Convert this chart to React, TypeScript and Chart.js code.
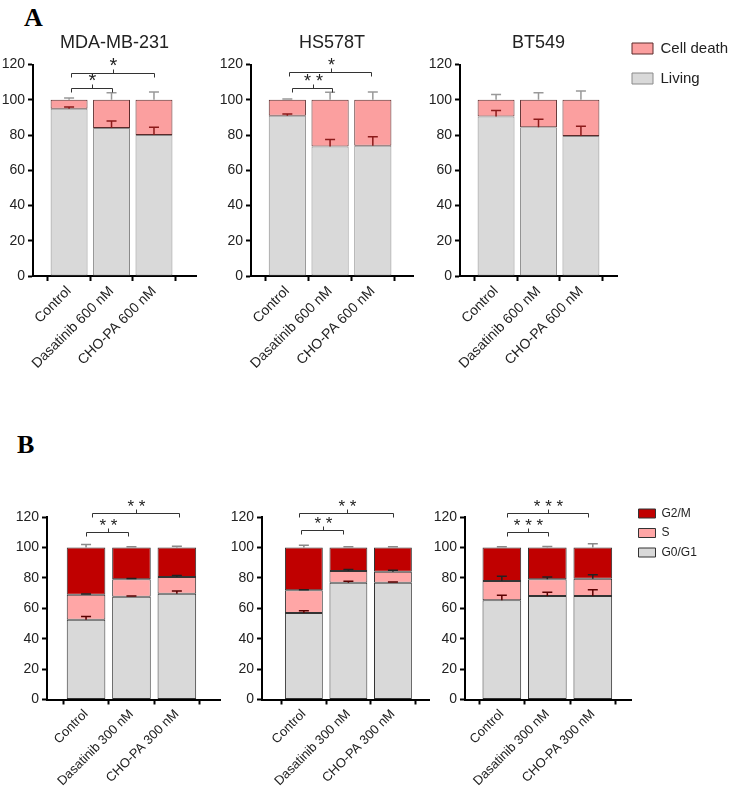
import React, { useEffect, useRef } from 'react';
import { Chart, registerables } from 'chart.js';

Chart.register(...registerables);

const FONT = "'Liberation Sans', Arial, sans-serif";
Chart.defaults.font.family = FONT;
Chart.defaults.color = '#222';

// ---------- Panel A: cell death (%), stacked Living + Cell death ----------
const catsA = ['Control', 'Dasatinib 600 nM', 'CHO-PA 600 nM'];

const mdaLiving = [95, 84, 80];
const mdaLivingErr = [1, 4, 4.5];
const mdaDeath = [5, 16, 20];
const mdaDeathErr = [1, 4, 4.5];

const hsLiving = [91, 73.5, 74];
const hsLivingErr = [1, 4, 5];
const hsDeath = [9, 26.5, 26];
const hsDeathErr = [0.5, 4.3, 4.5];

const btLiving = [90.5, 84.5, 79.5];
const btLivingErr = [3.5, 4.5, 5.5];
const btDeath = [9.5, 15.5, 20.5];
const btDeathErr = [3, 4, 5];

// ---------- Panel B: cell cycle (%), stacked G0/G1 + S + G2/M ----------
const catsB = ['Control', 'Dasatinib 300 nM', 'CHO-PA 300 nM'];

const b1G0 = [52.5, 67.5, 69.6];
const b1G0Err = [2, 0.5, 1.7];
const b1S = [16.3, 11.6, 10.9];
const b1SErr = [0.5, 0.5, 1];
const b1G2 = [31.2, 20.9, 19.5];
const b1G2Err = [2, 0.4, 0.7];

const b2G0 = [56.8, 76.7, 76.7];
const b2G0Err = [1.5, 1, 0.6];
const b2S = [15, 7.8, 7.3];
const b2SErr = [0.4, 1, 1];
const b2G2 = [28.2, 15.5, 16];
const b2G2Err = [1.5, 0.5, 0.5];

const b3G0 = [65.3, 68.1, 68.1];
const b3G0Err = [3.3, 2.5, 4];
const b3S = [12.7, 11, 11.3];
const b3SErr = [3, 1.5, 2.6];
const b3G2 = [22, 20.9, 20.6];
const b3G2Err = [0.5, 0.6, 2.4];

const yTicks = [0, 20, 40, 60, 80, 100, 120];

// significance brackets: [from category, to category, level, label]
const mdaBrackets: [number, number, number, string][] = [
  [0.05, 1.0, 106.5, '*'],
  [0.05, 2.0, 115.5, '*'],
];
const hsBrackets: [number, number, number, string][] = [
  [0.1, 1.05, 107, '* *'],
  [0.05, 1.96, 115.6, '*'],
];
const btBrackets: [number, number, number, string][] = [];
const b1Brackets: [number, number, number, string][] = [
  [0, 0.92, 110.3, '* *'],
  [0.13, 2.04, 122.7, '* *'],
];
const b2Brackets: [number, number, number, string][] = [
  [-0.07, 0.88, 111.5, '* *'],
  [-0.11, 2.0, 122.7, '* *'],
];
const b3Brackets: [number, number, number, string][] = [
  [0.11, 1.01, 110.3, '* * *'],
  [0.11, 1.89, 122.7, '* * *'],
];

// ---------- styles ----------
const GREY = '#d9d9d9';
const GREY_BORDER = '#8a8a8a';
const PINK_A = '#fb9f9f';
const PINK_A_BORDER = '#5a2a2a';
const PINK_B = '#ffa6a6';
const RED_B = '#c00000';
const DARK_BORDER = '#333333';

type DS = {
  label: string;
  data: number[];
  err: number[];
  bg: string;
  border: string;
  errColor: string;
};

type PanelCfg = {
  id: string;
  left: number;
  top: number;
  width: number;
  height: number;
  pad: { left: number; right: number; top: number; bottom: number };
  yWidth: number;
  xHeight: number;
  xMin: number;
  xMax: number;
  title?: string;
  spacer?: number;
  legend?: { size: number; boxW: number; boxH: number; padding: number };
  cats: string[];
  sets: DS[];
  brackets: [number, number, number, string][];
  xFont: number;
  barPct: number;
  starFont: number;
};

function errorPlugin(sets: DS[]) {
  return {
    id: 'errorBars',
    afterDatasetsDraw(chart: any) {
      const { ctx, scales } = chart;
      const x = scales.x;
      const y = scales.y;
      ctx.save();
      ctx.lineWidth = 1.5;
      const cum = sets[0].data.map(() => 0);
      sets.forEach((ds) => {
        ds.data.forEach((v, j) => {
          cum[j] += v;
          const e = ds.err[j];
          const px = x.getPixelForValue(j);
          const y0 = y.getPixelForValue(cum[j]);
          const y1 = y.getPixelForValue(cum[j] + e);
          ctx.strokeStyle = ds.errColor;
          ctx.beginPath();
          ctx.moveTo(px, y0);
          ctx.lineTo(px, y1);
          ctx.moveTo(px - 5, y1);
          ctx.lineTo(px + 5, y1);
          ctx.stroke();
        });
      });
      ctx.restore();
    },
  };
}

function bracketPlugin(brackets: [number, number, number, string][], size: number) {
  return {
    id: 'sigBrackets',
    afterDraw(chart: any) {
      const { ctx, scales } = chart;
      const x = scales.x;
      const y = scales.y;
      ctx.save();
      ctx.strokeStyle = '#333';
      ctx.lineWidth = 1;
      ctx.fillStyle = '#222';
      ctx.font = `${size}px ${FONT}`;
      ctx.textAlign = 'center';
      ctx.textBaseline = 'alphabetic';
      for (const [from, to, level, text] of brackets) {
        const x1 = Math.round(x.getPixelForValue(from)) + 0.5;
        const x2 = Math.round(x.getPixelForValue(to)) + 0.5;
        const yy = Math.round(y.getPixelForValue(level)) + 0.5;
        const xm = Math.round((x1 + x2) / 2) + 0.5;
        ctx.beginPath();
        ctx.moveTo(x1, yy + 4);
        ctx.lineTo(x1, yy);
        ctx.lineTo(x2, yy);
        ctx.lineTo(x2, yy + 4);
        ctx.moveTo(xm, yy);
        ctx.lineTo(xm, yy - 4);
        ctx.stroke();
        ctx.fillText(text, xm, yy - 2);
      }
      ctx.restore();
    },
  };
}

function Panel({ cfg }: { cfg: PanelCfg }) {
  const ref = useRef<HTMLCanvasElement | null>(null);
  useEffect(() => {
    const canvas = ref.current;
    if (!canvas) return;
    const cats = cfg.cats;
    const titleOpts = cfg.title
      ? {
          display: true,
          text: cfg.title,
          fullSize: false,
          color: '#222',
          font: { size: 18, weight: 'normal' as const, lineHeight: 1.2 },
          padding: { top: 6, bottom: 11 },
        }
      : cfg.spacer
      ? {
          display: true,
          text: '',
          fullSize: false,
          font: { size: cfg.spacer, lineHeight: 1 },
          padding: { top: 0, bottom: 0 },
        }
      : { display: false };
    const legendOpts = cfg.legend
      ? {
          display: true,
          position: 'right' as const,
          align: 'start' as const,
          fullSize: true,
          reverse: true,
          labels: {
            color: '#222',
            font: { size: cfg.legend.size },
            boxWidth: cfg.legend.boxW,
            boxHeight: cfg.legend.boxH,
            padding: cfg.legend.padding,
          },
        }
      : { display: false };

    const chart = new Chart(canvas, {
      type: 'bar',
      data: {
        datasets: cfg.sets.map((s) => ({
          label: s.label,
          data: s.data.map((v, i) => ({ x: i, y: v })),
          backgroundColor: s.bg,
          borderColor: s.border,
          borderWidth: 1,
          borderSkipped: false,
          barPercentage: cfg.barPct,
          categoryPercentage: 1,
        })),
      },
      options: {
        responsive: false,
        animation: false,
        events: [],
        layout: { padding: cfg.pad },
        plugins: {
          title: titleOpts as any,
          legend: legendOpts as any,
          tooltip: { enabled: false },
        },
        scales: {
          x: {
            type: 'linear',
            min: cfg.xMin,
            max: cfg.xMax,
            stacked: true,
            offset: false,
            afterBuildTicks: (s: any) => {
              s.ticks = cats.map((_, i) => ({ value: i }));
            },
            afterFit: (s: any) => {
              s.height = cfg.xHeight;
            },
            ticks: {
              autoSkip: false,
              minRotation: 45,
              maxRotation: 45,
              color: '#222',
              font: { size: cfg.xFont },
              padding: 2,
              callback: (v: any) => cats[v as number] ?? '',
            },
            grid: {
              drawOnChartArea: false,
              drawTicks: true,
              tickLength: 5,
              tickColor: '#000',
              tickWidth: 2,
            },
            border: { display: true, color: '#000', width: 2 },
          },
          y: {
            min: 0,
            max: 120,
            stacked: true,
            afterBuildTicks: (s: any) => {
              s.ticks = yTicks.map((v) => ({ value: v }));
            },
            afterFit: (s: any) => {
              s.width = cfg.yWidth;
            },
            ticks: {
              color: '#222',
              font: { size: 14 },
              padding: 3,
            },
            grid: {
              drawOnChartArea: false,
              drawTicks: true,
              tickLength: 5,
              tickColor: '#000',
              tickWidth: 2,
            },
            border: { display: true, color: '#000', width: 2 },
          },
        },
      } as any,
      plugins: [errorPlugin(cfg.sets), bracketPlugin(cfg.brackets, cfg.starFont)],
    });
    return () => chart.destroy();
  }, [cfg]);
  return (
    <canvas
      ref={ref}
      width={cfg.width}
      height={cfg.height}
      style={{ position: 'absolute', left: cfg.left, top: cfg.top, width: cfg.width, height: cfg.height }}
    />
  );
}

const setsA = (living: number[], livingErr: number[], death: number[], deathErr: number[]): DS[] => [
  { label: 'Living', data: living, err: livingErr, bg: GREY, border: GREY_BORDER, errColor: '#8b1a1a' },
  { label: 'Cell death', data: death, err: deathErr, bg: PINK_A, border: PINK_A_BORDER, errColor: '#999999' },
];

const setsB = (
  g0: number[], g0Err: number[], s: number[], sErr: number[], g2: number[], g2Err: number[],
): DS[] => [
  { label: 'G0/G1', data: g0, err: g0Err, bg: GREY, border: DARK_BORDER, errColor: '#5a0000' },
  { label: 'S', data: s, err: sErr, bg: PINK_B, border: DARK_BORDER, errColor: '#222222' },
  { label: 'G2/M', data: g2, err: g2Err, bg: RED_B, border: DARK_BORDER, errColor: '#8a8a8a' },
];

// Panels with a legend use a wide (transparent, overlapping) canvas so that the
// layout's legend width limit (a quarter of the available width) fits the labels.
const panels: PanelCfg[] = [
  {
    id: 'a1', left: 0, top: 0, width: 205, height: 385,
    pad: { left: 0, right: 9, top: 26, bottom: 0 },
    yWidth: 33, xHeight: 109, xMin: -0.85, xMax: 2.99,
    title: 'MDA-MB-231', cats: catsA,
    sets: setsA(mdaLiving, mdaLivingErr, mdaDeath, mdaDeathErr),
    brackets: mdaBrackets, xFont: 14, barPct: 0.87, starFont: 20,
  },
  {
    id: 'a2', left: 205, top: 0, width: 215, height: 385,
    pad: { left: 0, right: 7, top: 26, bottom: 0 },
    yWidth: 46, xHeight: 109, xMin: -0.85, xMax: 2.94,
    title: 'HS578T', cats: catsA,
    sets: setsA(hsLiving, hsLivingErr, hsDeath, hsDeathErr),
    brackets: hsBrackets, xFont: 14, barPct: 0.87, starFont: 18,
  },
  {
    id: 'a3', left: 272, top: 0, width: 466, height: 385,
    pad: { left: 0, right: 6, top: 26, bottom: 0 },
    yWidth: 188, xHeight: 109, xMin: -0.85, xMax: 2.85,
    title: 'BT549', cats: catsA,
    legend: { size: 15, boxW: 21, boxH: 11, padding: 15 },
    sets: setsA(btLiving, btLivingErr, btDeath, btDeathErr),
    brackets: btBrackets, xFont: 14, barPct: 0.87, starFont: 18,
  },
  {
    id: 'b1', left: 0, top: 390, width: 225, height: 410,
    pad: { left: 0, right: 5, top: 127, bottom: 0 },
    yWidth: 47, xHeight: 100.5, xMin: -0.86, xMax: 2.95,
    cats: catsB,
    sets: setsB(b1G0, b1G0Err, b1S, b1SErr, b1G2, b1G2Err),
    brackets: b1Brackets, xFont: 13, barPct: 0.85, starFont: 17,
  },
  {
    id: 'b2', left: 225, top: 390, width: 207, height: 410,
    pad: { left: 0, right: 3, top: 127, bottom: 0 },
    yWidth: 37, xHeight: 100.5, xMin: -0.94, xMax: 2.81,
    cats: catsB,
    sets: setsB(b2G0, b2G0Err, b2S, b2SErr, b2G2, b2G2Err),
    brackets: b2Brackets, xFont: 13, barPct: 0.85, starFont: 17,
  },
  {
    id: 'b3', left: 415, top: 390, width: 323, height: 410,
    pad: { left: 0, right: 35, top: 110, bottom: 0 },
    spacer: 17,
    yWidth: 50, xHeight: 100.5, xMin: -0.81, xMax: 2.84,
    cats: catsB,
    legend: { size: 12, boxW: 17, boxH: 9, padding: 7.5 },
    sets: setsB(b3G0, b3G0Err, b3S, b3SErr, b3G2, b3G2Err),
    brackets: b3Brackets, xFont: 13, barPct: 0.85, starFont: 17,
  },
];

const letterStyle: React.CSSProperties = {
  position: 'absolute',
  font: "bold 26px 'Liberation Serif', 'Times New Roman', serif",
  lineHeight: '26px',
  color: '#000',
};

export default function App() {
  return (
    <div style={{ position: 'absolute', left: 0, top: 0, width: 738, height: 800, background: '#fff' }}>
      <div style={{ ...letterStyle, left: 24, top: 5 }}>A</div>
      <div style={{ ...letterStyle, left: 17, top: 432 }}>B</div>
      {panels.map((p) => (
        <Panel key={p.id} cfg={p} />
      ))}
    </div>
  );
}
